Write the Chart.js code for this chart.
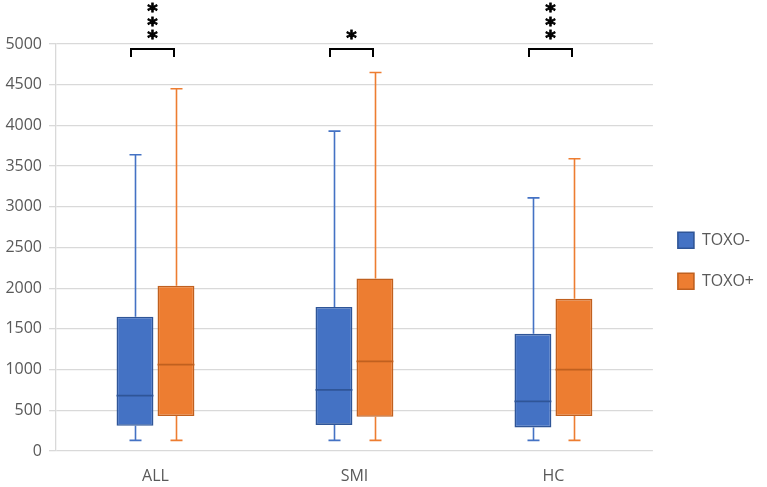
<!DOCTYPE html>
<html>
<head>
<meta charset="utf-8">
<script src="https://cdn.jsdelivr.net/npm/chart.js@4/dist/chart.umd.min.js"></script>
<style>
  html, body { margin: 0; padding: 0; background: #ffffff; }
  #wrap { width: 767px; height: 487px; }
</style>
</head>
<body>
<div id="wrap"><canvas id="c" width="767" height="487"></canvas></div>
<script>
// ---- data ----
const categories = ['ALL', 'SMI', 'HC'];
const seriesNames = ['TOXO-', 'TOXO+'];

const toxoNegMin    = [130, 130, 130];
const toxoNegQ1     = [310, 320, 290];
const toxoNegMedian = [680, 750, 610];
const toxoNegQ3     = [1650, 1770, 1440];
const toxoNegMax    = [3640, 3930, 3110];

const toxoPosMin    = [130, 130, 130];
const toxoPosQ1     = [430, 420, 430];
const toxoPosMedian = [1060, 1100, 1000];
const toxoPosQ3     = [2030, 2120, 1870];
const toxoPosMax    = [4450, 4650, 3590];

const significance  = ['***', '*', '***'];

const yMin = 0, yMax = 5000, yStep = 500;

// ---- styling ----
const blue = '#4472C4', blueDark = '#2F5597';
const orange = '#ED7D31', orangeDark = '#C0601F';
const gridColor = '#D9D9D9';
const textColor = '#595959';
const fontFamily = "'Open Sans', 'Noto Sans', sans-serif";

function boxes(q1, q3) { return q1.map((v, i) => [v, q3[i]]); }

const boxPlugin = {
  id: 'boxWhiskers',
  beforeDatasetsDraw(chart) {
    const ctx = chart.ctx, y = chart.scales.y;
    chart.data.datasets.forEach((ds, di) => {
      const meta = chart.getDatasetMeta(di);
      meta.data.forEach((bar, i) => {
        const x = Math.round(bar.x) + 0.5;
        const pMax = y.getPixelForValue(ds.stats.max[i]);
        const pMin = y.getPixelForValue(ds.stats.min[i]);
        const pQ1 = y.getPixelForValue(ds.data[i][0]);
        const pQ3 = y.getPixelForValue(ds.data[i][1]);
        const cap = 6;
        ctx.save();
        ctx.strokeStyle = ds.whiskerColor;
        ctx.lineWidth = 1.6;
        ctx.beginPath();
        ctx.moveTo(x, pQ3); ctx.lineTo(x, pMax);
        ctx.moveTo(x - cap, pMax); ctx.lineTo(x + cap, pMax);
        ctx.moveTo(x, pQ1); ctx.lineTo(x, pMin);
        ctx.moveTo(x - cap, pMin); ctx.lineTo(x + cap, pMin);
        ctx.stroke();
        ctx.restore();
      });
    });
  },
  afterDatasetsDraw(chart) {
    const ctx = chart.ctx, y = chart.scales.y;
    chart.data.datasets.forEach((ds, di) => {
      const meta = chart.getDatasetMeta(di);
      meta.data.forEach((bar, i) => {
        const pMed = y.getPixelForValue(ds.stats.median[i]);
        ctx.save();
        ctx.strokeStyle = ds.borderColor;
        ctx.lineWidth = 1.8;
        ctx.beginPath();
        ctx.moveTo(bar.x - bar.width / 2, pMed);
        ctx.lineTo(bar.x + bar.width / 2, pMed);
        ctx.stroke();
        ctx.restore();
      });
    });
    // significance brackets and stars
    const m0 = chart.getDatasetMeta(0), m1 = chart.getDatasetMeta(1);
    const top = chart.chartArea.top;
    ctx.save();
    ctx.strokeStyle = '#000000';
    ctx.fillStyle = '#000000';
    ctx.lineWidth = 2;
    ctx.lineJoin = 'miter';
    ctx.font = "bold 20px 'DejaVu Sans', sans-serif";
    ctx.textAlign = 'center';
    ctx.textBaseline = 'alphabetic';
    const sm = ctx.measureText('*');
    const starShift = (sm.actualBoundingBoxAscent - sm.actualBoundingBoxDescent) / 2;
    categories.forEach((c, i) => {
      const x1 = Math.round(m0.data[i].x - 4);
      const x2 = Math.round(m1.data[i].x - 2);
      const yTop = top + 5, yEnd = top + 13;
      ctx.lineWidth = 2;
      ctx.beginPath();
      ctx.moveTo(x1, yEnd); ctx.lineTo(x1, yTop); ctx.lineTo(x2, yTop); ctx.lineTo(x2, yEnd);
      ctx.stroke();
      const cx = (x1 + x2) / 2;
      const n = significance[i].length;
      ctx.lineWidth = 0.8;
      for (let k = 0; k < n; k++) {
        const cy = yTop - 14 - 13.5 * k;
        ctx.fillText('*', cx, cy + starShift);
        ctx.strokeText('*', cx, cy + starShift);
      }
    });
    ctx.restore();
  }
};

new Chart(document.getElementById('c'), {
  type: 'bar',
  data: {
    labels: categories,
    datasets: [
      {
        label: seriesNames[0],
        data: boxes(toxoNegQ1, toxoNegQ3),
        stats: { min: toxoNegMin, median: toxoNegMedian, max: toxoNegMax },
        backgroundColor: blue,
        borderColor: blueDark,
        whiskerColor: blue,
        borderWidth: 1.6,
        borderSkipped: false,
        categoryPercentage: 0.412,
        barPercentage: 0.9
      },
      {
        label: seriesNames[1],
        data: boxes(toxoPosQ1, toxoPosQ3),
        stats: { min: toxoPosMin, median: toxoPosMedian, max: toxoPosMax },
        backgroundColor: orange,
        borderColor: orangeDark,
        whiskerColor: orange,
        borderWidth: 1.6,
        borderSkipped: false,
        categoryPercentage: 0.412,
        barPercentage: 0.9
      }
    ]
  },
  options: {
    responsive: false,
    animation: false,
    layout: { padding: { top: 44, bottom: 1, left: 0, right: 3 } },
    plugins: {
      tooltip: { enabled: false },
      legend: {
        position: 'right',
        fullSize: false,
        title: { display: true, text: ' ', font: { size: 10 }, padding: { top: 14.5, bottom: 0 } },
        labels: {
          color: textColor,
          font: { family: fontFamily, size: 16 },
          boxWidth: 16,
          boxHeight: 16,
          padding: 25
        }
      }
    },
    scales: {
      x: {
        grid: { display: false, drawTicks: false },
        border: { display: false },
        afterFit(scale) { scale.height = 35; },
        ticks: { color: textColor, font: { family: fontFamily, size: 16 }, padding: 16 }
      },
      y: {
        min: yMin,
        max: yMax,
        afterFit(scale) { scale.width = 56; },
        ticks: {
          stepSize: yStep,
          color: textColor,
          font: { family: fontFamily, size: 16 },
          padding: 7,
          callback: (v) => String(v)
        },
        grid: { color: gridColor, lineWidth: 1.3, tickLength: 7 },
        border: { color: gridColor, width: 1.3 }
      }
    }
  },
  plugins: [boxPlugin]
});
</script>
</body>
</html>
